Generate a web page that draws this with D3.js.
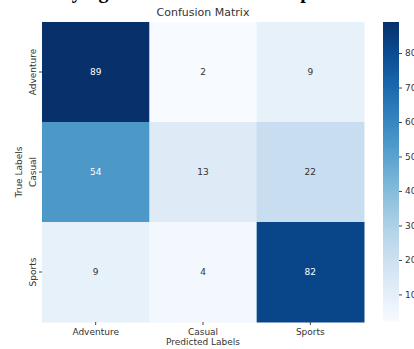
<!DOCTYPE html>
<html>
<head>
<meta charset="utf-8">
<script src="https://cdn.jsdelivr.net/npm/d3@7"></script>
<style>
  body { margin: 0; background: #fff; }
  text { font-family: "DejaVu Sans", sans-serif; }
</style>
</head>
<body>
<script>
var trueLabels = ['Adventure', 'Casual', 'Sports'];
var predLabels = ['Adventure', 'Casual', 'Sports'];
var matrix = [
  [89, 2, 9],
  [54, 13, 22],
  [9, 4, 82]
];
var cbarTicks = [10, 20, 30, 40, 50, 60, 70, 80];

var w = 414;
var h = 349;
var mLeft = 42, mTop = 22, mRight = 364, mBottom = 322;

var cells = [];
matrix.forEach((row, i) => row.forEach((v, j) => cells.push({ t: trueLabels[i], p: predLabels[j], v: v })));

var vmin = d3.min(cells, d => d.v);
var vmax = d3.max(cells, d => d.v);

var svg = d3.select('body').append('svg').attr('width', w).attr('height', h);

// cropped caption from the page above the figure
svg.append('text')
  .attr('x', 14)
  .attr('y', -2)
  .style('font-family', '"Liberation Serif", serif')
  .style('font-weight', 'bold')
  .style('font-size', '20px')
  .attr('fill', '#000')
  .text('Classifying Game Genres: A Comparison');

var x = d3.scaleBand().domain(predLabels).range([mLeft, mRight]);
var y = d3.scaleBand().domain(trueLabels).range([mTop, mBottom]);
var color = d3.scaleSequential(d3.interpolateBlues).domain([vmin, vmax]);

svg.append('g')
  .selectAll('rect')
  .data(cells)
  .enter()
  .append('rect')
  .attr('x', d => x(d.p))
  .attr('y', d => y(d.t))
  .attr('width', x.bandwidth() + 0.5)
  .attr('height', y.bandwidth() + 0.5)
  .attr('fill', d => color(d.v));

svg.append('g')
  .selectAll('text')
  .data(cells)
  .enter()
  .append('text')
  .attr('x', d => x(d.p) + x.bandwidth() / 2)
  .attr('y', d => y(d.t) + y.bandwidth() / 2)
  .attr('text-anchor', 'middle')
  .attr('dy', '0.35em')
  .style('font-size', '9px')
  .attr('fill', d => (d.v - vmin) / (vmax - vmin) > 0.45 ? '#fff' : '#333')
  .text(d => d.v);

var xAxis = d3.axisBottom(x).tickSize(3).tickPadding(4);
var gx = svg.append('g')
  .attr('transform', `translate(0, ${mBottom})`)
  .call(xAxis);

var yAxis = d3.axisLeft(y).tickSize(3).tickPadding(4);
var gy = svg.append('g')
  .attr('transform', `translate(${mLeft}, 0)`)
  .call(yAxis);

[gx, gy].forEach(g => {
  g.select('.domain').remove();
  g.selectAll('line').attr('stroke', '#444');
  g.selectAll('text').style('font-size', '9px').attr('fill', '#333');
});

gy.selectAll('.tick text')
  .attr('text-anchor', 'middle')
  .attr('transform', 'rotate(-90)')
  .attr('x', 0)
  .attr('y', -9);

svg.append('text')
  .attr('x', (mLeft + mRight) / 2)
  .attr('y', 345)
  .attr('text-anchor', 'middle')
  .style('font-size', '9px')
  .attr('fill', '#333')
  .text('Predicted Labels');

svg.append('text')
  .attr('transform', `translate(22, ${(mTop + mBottom) / 2}) rotate(-90)`)
  .attr('text-anchor', 'middle')
  .style('font-size', '9px')
  .attr('fill', '#333')
  .text('True Labels');

svg.append('text')
  .attr('x', (mLeft + mRight) / 2)
  .attr('y', 16)
  .attr('text-anchor', 'middle')
  .style('font-size', '11px')
  .attr('fill', '#333')
  .text('Confusion Matrix');

// colorbar
var cbX = 383, cbW = 16;
var cy = d3.scaleLinear().domain([vmin, vmax]).range([mBottom, mTop]);
var defs = svg.append('defs');
var grad = defs.append('linearGradient')
  .attr('id', 'cbar')
  .attr('x1', 0).attr('y1', 1).attr('x2', 0).attr('y2', 0);
d3.range(0, 1.01, 0.1).forEach(t => {
  grad.append('stop')
    .attr('offset', t)
    .attr('stop-color', d3.interpolateBlues(t));
});
svg.append('rect')
  .attr('x', cbX)
  .attr('y', mTop)
  .attr('width', cbW)
  .attr('height', mBottom - mTop)
  .attr('fill', 'url(#cbar)');

var cAxis = d3.axisRight(cy).tickValues(cbarTicks).tickSize(3).tickPadding(3);
var gc = svg.append('g')
  .attr('transform', `translate(${cbX + cbW}, 0)`)
  .call(cAxis);
gc.select('.domain').remove();
gc.selectAll('line').attr('stroke', '#444');
gc.selectAll('text').style('font-size', '9px').attr('fill', '#333');
</script>
</body>
</html>
